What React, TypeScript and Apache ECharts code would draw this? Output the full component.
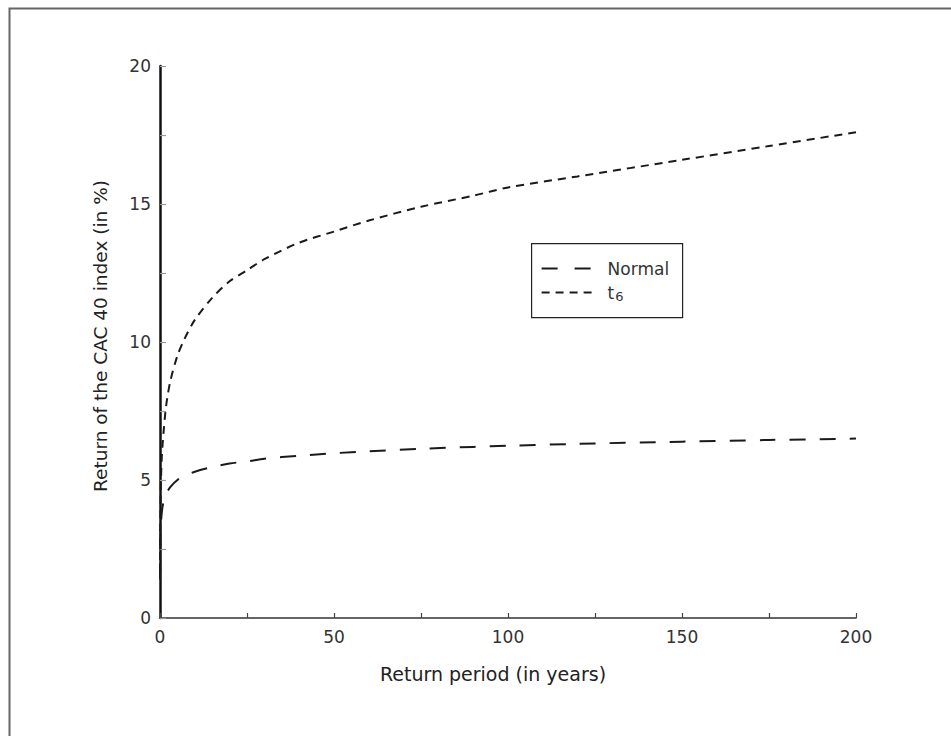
import React, { useEffect, useRef } from "react";
import * as echarts from "echarts";

// Return periods (years) and estimated return levels (%) of the CAC 40 index
const periods = [0.02, 0.05, 0.1, 0.2, 0.3, 0.5, 0.75, 1, 1.5, 2, 3, 5, 7, 10, 15, 20, 25, 30, 40, 50, 60, 75, 90, 100, 120, 150, 175, 200];
const normalLevels = [1.4, 2.2, 2.8, 3.25, 3.5, 3.8, 4.05, 4.2, 4.4, 4.55, 4.75, 5.0, 5.14, 5.3, 5.47, 5.6, 5.67, 5.77, 5.88, 5.97, 6.04, 6.13, 6.2, 6.24, 6.31, 6.39, 6.45, 6.5];
const t6Levels = [1.6, 2.7, 3.6, 4.6, 5.1, 5.8, 6.3, 6.7, 7.4, 7.9, 8.6, 9.5, 10.1, 10.8, 11.6, 12.2, 12.6, 13.0, 13.6, 14.0, 14.4, 14.9, 15.3, 15.6, 16.0, 16.6, 17.1, 17.6];

const FONT = "'DejaVu Sans', 'Liberation Sans', sans-serif";
const INK = "#1a1a1a";

export default function App() {
  const ref = useRef<HTMLDivElement>(null);

  useEffect(() => {
    document.body.style.margin = "0";
    const chart = echarts.init(ref.current!, null, { renderer: "svg" });
    const pair = (ys: number[]) => periods.map((p, i) => [p, ys[i]]);

    chart.setOption({
      animation: false,
      backgroundColor: "#fff",
      grid: { left: 160, right: 95, top: 66, bottom: 118 },
      xAxis: {
        type: "value",
        min: 0,
        max: 200,
        interval: 50,
        name: "Return period (in years)",
        nameLocation: "middle",
        nameGap: 46,
        nameTextStyle: { fontFamily: FONT, fontSize: 19, color: "#222", padding: [0, 30, 0, 0] },
        axisLine: { lineStyle: { color: "#333", width: 1.5 } },
        axisTick: { inside: true, length: 5, lineStyle: { color: "#444", width: 1.2 } },
        minorTick: { show: true, splitNumber: 2, length: 5, lineStyle: { color: "#444", width: 1.2 } },
        axisLabel: { fontFamily: FONT, fontSize: 17, color: "#333", margin: 10 },
        splitLine: { show: false },
      },
      yAxis: {
        type: "value",
        min: 0,
        max: 20,
        interval: 5,
        name: "Return of the CAC 40 index (in %)",
        nameLocation: "middle",
        nameGap: 50,
        nameTextStyle: { fontFamily: FONT, fontSize: 18.5, color: "#222", padding: [0, 0, 0, 12] },
        axisLine: { show: true, lineStyle: { color: "#111", width: 2.5 } },
        axisTick: { show: true, inside: true, length: 6, lineStyle: { color: "#999", width: 1.2 } },
        minorTick: { show: true, splitNumber: 2, length: 6, lineStyle: { color: "#999", width: 1.2 } },
        axisLabel: { fontFamily: FONT, fontSize: 17, color: "#333", margin: 9 },
        splitLine: { show: false },
      },
      series: [
        {
          name: "Normal",
          type: "line",
          data: pair(normalLevels),
          showSymbol: false,
          smooth: 0.3,
          lineStyle: { color: INK, width: 2, type: [16, 14] },
        },
        {
          name: "t6",
          type: "line",
          data: pair(t6Levels),
          showSymbol: false,
          smooth: 0.3,
          lineStyle: { color: INK, width: 2, type: [8, 6] },
        },
      ],
      graphic: [
        {
          type: "rect",
          left: 7,
          top: 6,
          shape: { width: 2000, height: 2000 },
          style: { fill: "none", stroke: "#666", lineWidth: 2 },
          silent: true,
        },
        {
          type: "group",
          left: 531,
          top: 243,
          children: [
            {
              type: "rect",
              shape: { x: 0, y: 0, width: 151, height: 74 },
              style: { fill: "#fff", stroke: "#222", lineWidth: 1.2 },
            },
            {
              type: "line",
              shape: { x1: 10, y1: 25, x2: 61, y2: 25 },
              style: { stroke: INK, lineWidth: 2, lineDash: [16, 17] },
            },
            {
              type: "text",
              x: 76,
              y: 25,
              style: { text: "Normal", font: `17px ${FONT}`, fill: "#333", verticalAlign: "middle" },
            },
            {
              type: "line",
              shape: { x1: 10, y1: 49, x2: 61, y2: 49 },
              style: { stroke: INK, lineWidth: 2, lineDash: [8, 6] },
            },
            {
              type: "text",
              x: 76,
              y: 49,
              style: {
                text: "{a|t}{b|6}",
                verticalAlign: "middle",
                rich: {
                  a: { font: `17px ${FONT}`, fill: "#333" },
                  b: { font: `13px ${FONT}`, fill: "#333", padding: [8, 0, 0, 1] },
                },
              },
            },
          ],
        },
      ],
    });

    return () => chart.dispose();
  }, []);

  return <div ref={ref} style={{ width: 951, height: 736 }} />;
}
